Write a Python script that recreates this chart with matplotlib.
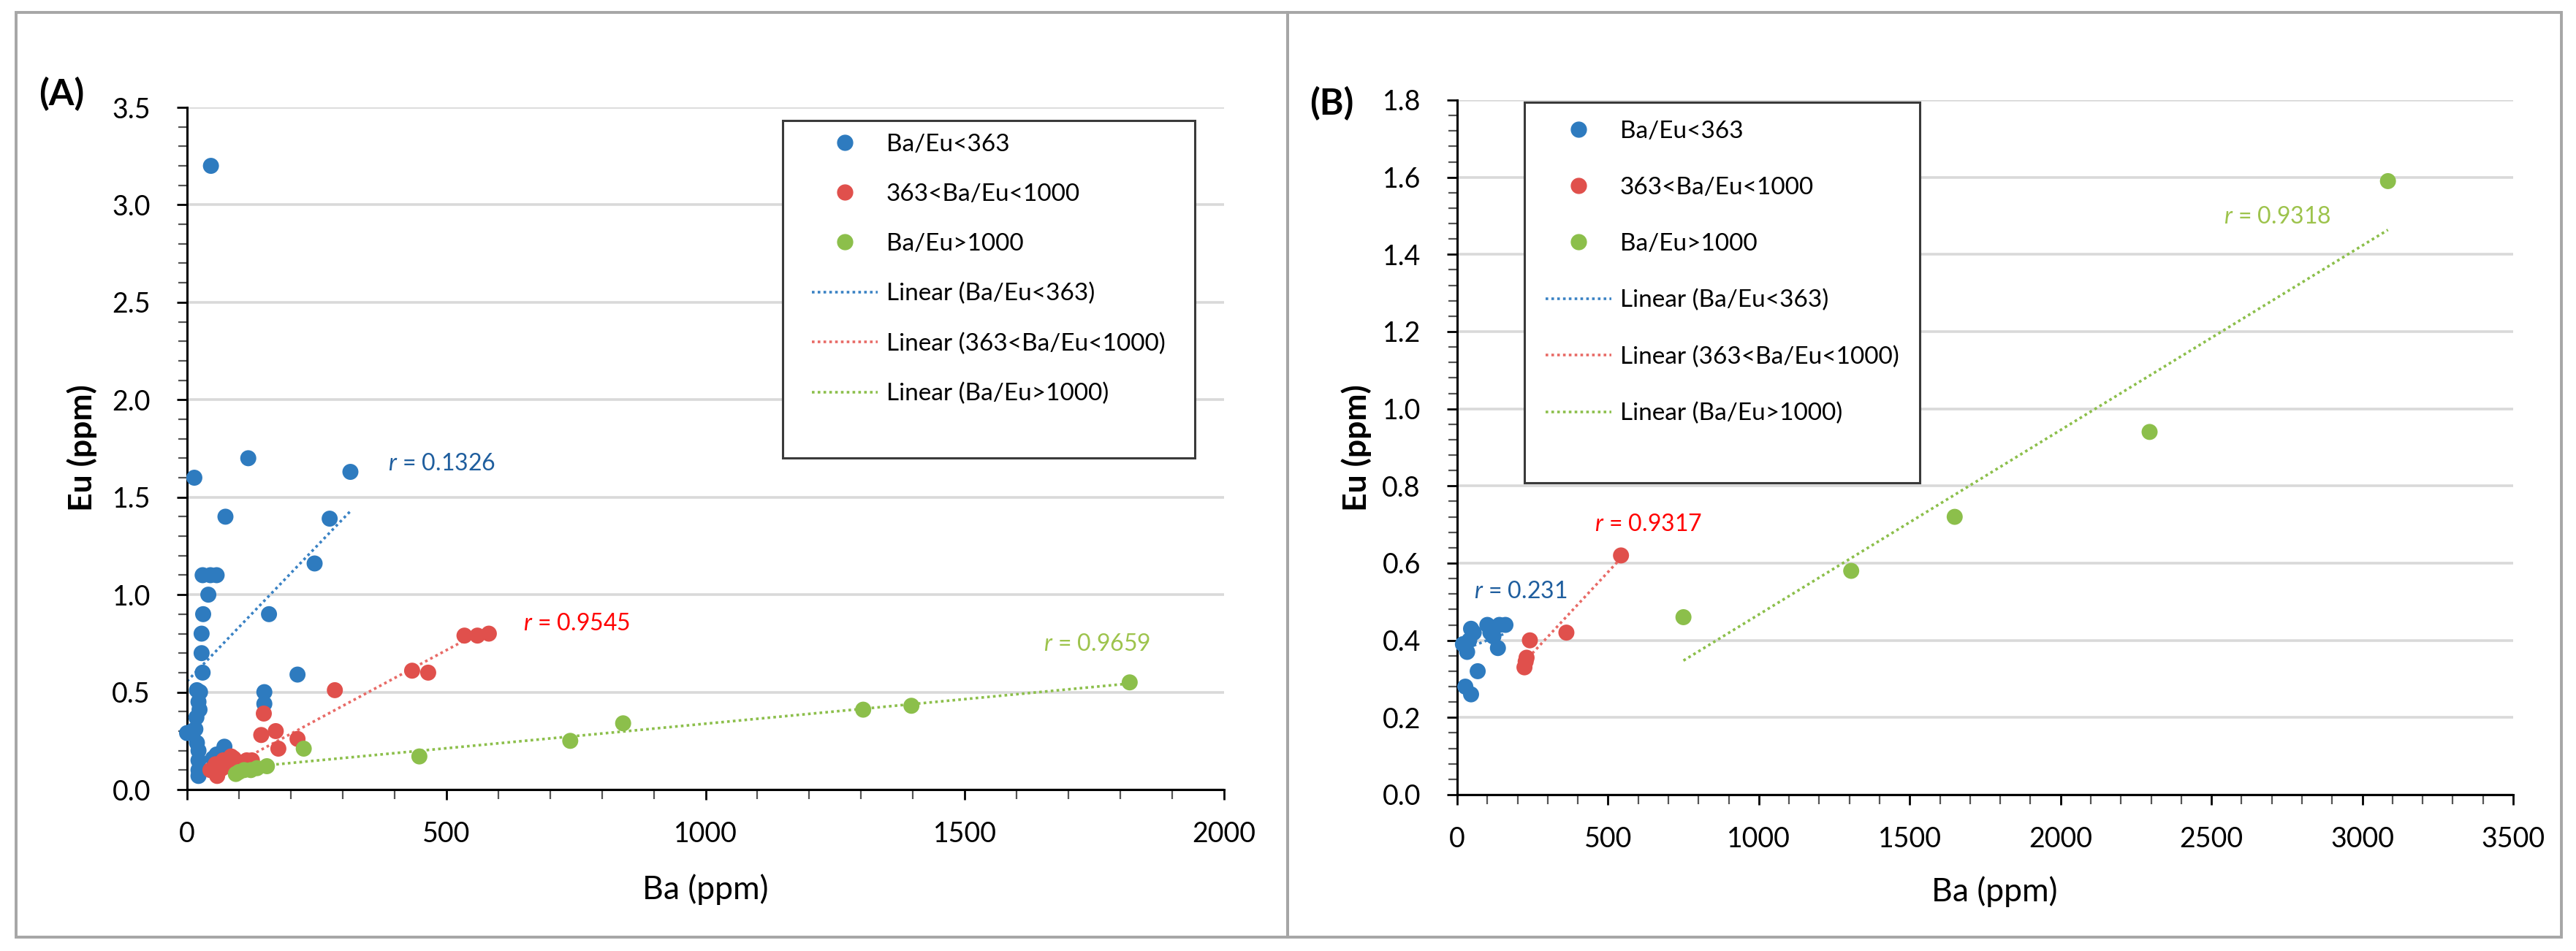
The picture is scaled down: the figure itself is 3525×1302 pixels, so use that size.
import matplotlib
matplotlib.use('Agg')
import matplotlib.pyplot as plt
from matplotlib.lines import Line2D
from matplotlib.patches import Rectangle
from matplotlib.ticker import MultipleLocator, FormatStrFormatter
import numpy as np

plt.rcParams['font.family'] = ['Lato', 'DejaVu Sans']
plt.rcParams['mathtext.fontset'] = 'custom'
plt.rcParams['mathtext.it'] = 'Lato:italic'
plt.rcParams['mathtext.rm'] = 'Lato'

# ---------------- data: panel A ----------------
a_blue_ba = [46, 14, 118, 315, 74, 275, 246, 30, 45, 57, 41, 31, 158, 28, 28, 30, 213, 149, 149,
             19, 25, 22, 24, 18, 0, 10, 16, 19, 22, 22, 22, 22, 72, 57, 50]
a_blue_eu = [3.20, 1.60, 1.70, 1.63, 1.40, 1.39, 1.16, 1.10, 1.10, 1.10, 1.00, 0.90, 0.90, 0.80, 0.70, 0.60, 0.59, 0.50, 0.44,
             0.51, 0.50, 0.45, 0.41, 0.37, 0.29, 0.30, 0.31, 0.24, 0.20, 0.15, 0.10, 0.07, 0.22, 0.18, 0.16]
a_red_ba = [582, 560, 535, 434, 465, 285, 148, 143, 171, 213, 176,
            45, 55, 60, 70, 58, 80, 90, 95, 100, 110, 115, 125, 68, 85]
a_red_eu = [0.80, 0.79, 0.79, 0.61, 0.60, 0.51, 0.39, 0.28, 0.30, 0.26, 0.21,
            0.10, 0.13, 0.09, 0.15, 0.07, 0.12, 0.16, 0.12, 0.14, 0.13, 0.15, 0.15, 0.11, 0.17]
a_green_ba = [1818, 1397, 1304, 841, 739, 448, 225, 154, 123, 110, 94, 100, 135]
a_green_eu = [0.55, 0.43, 0.41, 0.34, 0.25, 0.17, 0.21, 0.12, 0.10, 0.10, 0.08, 0.09, 0.11]
a_slopes = [0.00277, 0.00143, 0.000252]
a_intercepts = [0.556, 0.0, 0.086]
a_r_values = ['0.1326', '0.9545', '0.9659']

# ---------------- data: panel B ----------------
b_blue_ba = [19, 27, 33, 40, 46, 46, 55, 68, 100, 110, 120, 135, 140, 160]
b_blue_eu = [0.39, 0.28, 0.37, 0.40, 0.26, 0.43, 0.42, 0.32, 0.44, 0.42, 0.41, 0.38, 0.44, 0.44]
b_red_ba = [223, 227, 230, 241, 362, 543]
b_red_eu = [0.33, 0.345, 0.355, 0.40, 0.42, 0.62]
b_green_ba = [750, 1306, 1649, 2295, 3085]
b_green_eu = [0.46, 0.58, 0.72, 0.94, 1.59]
b_slopes = [0.0003, 0.00084, 0.000478]
b_intercepts = [0.37, 0.157, -0.011]
b_r_values = ['0.231', '0.9317', '0.9318']

series_labels = ['Ba/Eu<363', '363<Ba/Eu<1000', 'Ba/Eu>1000']
trend_labels = ['Linear (Ba/Eu<363)', 'Linear (363<Ba/Eu<1000)', 'Linear (Ba/Eu>1000)']

# ---------------- styling ----------------
mk_colors = ['#2E7BBF', '#E0504C', '#8CBF4B']
ln_colors = ['#3A82C4', '#E86A66', '#8CBF4B']
txt_colors = ['#1F5E9E', '#FF0000', '#9DC34C']

W, H = 3525, 1302
fig = plt.figure(figsize=(W / 100, H / 100), dpi=100)


def fx(px):
    return px / W


def fy(py):
    return 1 - py / H


# panel borders
for (x0, y0, x1, y1) in [(22, 17, 1762, 1283), (1762, 17, 3505, 1283)]:
    fig.add_artist(Rectangle((fx(x0), fy(y1)), fx(x1) - fx(x0), fy(y0) - fy(y1),
                             transform=fig.transFigure, fill=False, edgecolor='#A6A6A6', lw=2.8))


def make_axes(box):
    x0, y0, x1, y1 = box
    return fig.add_axes([fx(x0), fy(y1), fx(x1) - fx(x0), fy(y0) - fy(y1)])


def style(ax, xmax, xmaj, xmin_, ymax, ymaj, ymin_):
    ax.set_xlim(0, xmax)
    ax.set_ylim(0, ymax)
    ax.xaxis.set_major_locator(MultipleLocator(xmaj))
    ax.xaxis.set_minor_locator(MultipleLocator(xmin_))
    ax.yaxis.set_major_locator(MultipleLocator(ymaj))
    ax.yaxis.set_minor_locator(MultipleLocator(ymin_))
    ax.yaxis.set_major_formatter(FormatStrFormatter('%.1f'))
    for s in ['top', 'right']:
        ax.spines[s].set_visible(False)
    for s in ['left', 'bottom']:
        ax.spines[s].set_linewidth(2.2)
        ax.spines[s].set_color('black')
    ax.tick_params(which='major', direction='out', length=10, width=2, labelsize=27)
    ax.tick_params(which='minor', direction='out', length=9, width=1.6, color='#555555')
    ax.tick_params(axis='y', which='major', pad=26)
    ax.tick_params(axis='x', which='major', pad=21)
    ax.grid(axis='y', which='major', color='#D9D9D9', lw=2.6)
    ax.set_axisbelow(True)


def draw(ax, groups, slopes, intercepts):
    for i, (xs, ys) in enumerate(groups):
        xs = np.asarray(xs, float)
        xl = np.array([xs.min(), xs.max()])
        ax.plot(xl, slopes[i] * xl + intercepts[i], linestyle=(0, (1, 1.2)), lw=2.6,
                color=ln_colors[i], zorder=2)
    for i, (xs, ys) in enumerate(groups):
        ax.scatter(xs, ys, s=250, color=mk_colors[i], edgecolors='none', zorder=3, clip_on=False)


def legend(ax, frame, anchor, spacing):
    ax.add_patch(Rectangle((frame[0], frame[1]), frame[2], frame[3], transform=ax.transAxes,
                           facecolor='white', edgecolor='#3A3A3A', lw=2.2, zorder=5))
    handles = [Line2D([], [], linestyle='none', marker='o', markersize=15, color=c) for c in mk_colors]
    handles += [Line2D([], [], linestyle=(0, (1, 1.2)), lw=2.6, color=c) for c in ln_colors]
    leg = ax.legend(handles, series_labels + trend_labels, loc='upper left', bbox_to_anchor=anchor,
                    frameon=False, fontsize=24, borderpad=0, borderaxespad=0,
                    handlelength=2.7, handletextpad=0.35, labelspacing=spacing)
    leg.set_zorder(6)


def rlabel(ax, x, y, val, color):
    ax.text(x, y, r'$\mathit{r}$ = ' + val, color=color, fontsize=23, ha='left', va='center', zorder=4)


# ---------------- panel A ----------------
axA = make_axes((256, 147, 1675, 1081))
style(axA, 2000, 500, 100, 3.5, 0.5, 0.1)
draw(axA, [(a_blue_ba, a_blue_eu), (a_red_ba, a_red_eu), (a_green_ba, a_green_eu)], a_slopes, a_intercepts)
legend(axA, (0.574, 0.486, 0.398, 0.495), (0.6025, 0.9615), 1.14)
rlabel(axA, 388, 1.67, a_r_values[0], txt_colors[0])
rlabel(axA, 649, 0.85, a_r_values[1], txt_colors[1])
rlabel(axA, 1652, 0.747, a_r_values[2], txt_colors[2])
axA.set_xlabel('Ba (ppm)', fontsize=32)
axA.set_ylabel('Eu (ppm)', fontsize=32, fontweight='bold')
axA.xaxis.set_label_coords(0.5, -0.146)
axA.xaxis.label.set_va('center')
axA.yaxis.set_label_coords(-0.1015, 0.501)
axA.yaxis.label.set_va('center')

# ---------------- panel B ----------------
axB = make_axes((1994, 137, 3439, 1088))
style(axB, 3500, 500, 100, 1.8, 0.2, 0.04)
draw(axB, [(b_blue_ba, b_blue_eu), (b_red_ba, b_red_eu), (b_green_ba, b_green_eu)], b_slopes, b_intercepts)
legend(axB, (0.064, 0.449, 0.374, 0.548), (0.0837, 0.9706), 1.41)
rlabel(axB, 55, 0.526, b_r_values[0], txt_colors[0])
rlabel(axB, 455, 0.70, b_r_values[1], txt_colors[1])
rlabel(axB, 2540, 1.497, b_r_values[2], txt_colors[2])
axB.set_xlabel('Ba (ppm)', fontsize=32)
axB.set_ylabel('Eu (ppm)', fontsize=32, fontweight='bold')
axB.xaxis.set_label_coords(0.509, -0.14)
axB.xaxis.label.set_va('center')
axB.yaxis.set_label_coords(-0.0955, 0.4995)
axB.yaxis.label.set_va('center')

fig.text(fx(84), fy(129), '(A)', ha='center', va='center', fontsize=36, fontweight='bold')
fig.text(fx(1822), fy(142), '(B)', ha='center', va='center', fontsize=36, fontweight='bold')

fig.savefig('out.png', dpi=100, facecolor='white')
